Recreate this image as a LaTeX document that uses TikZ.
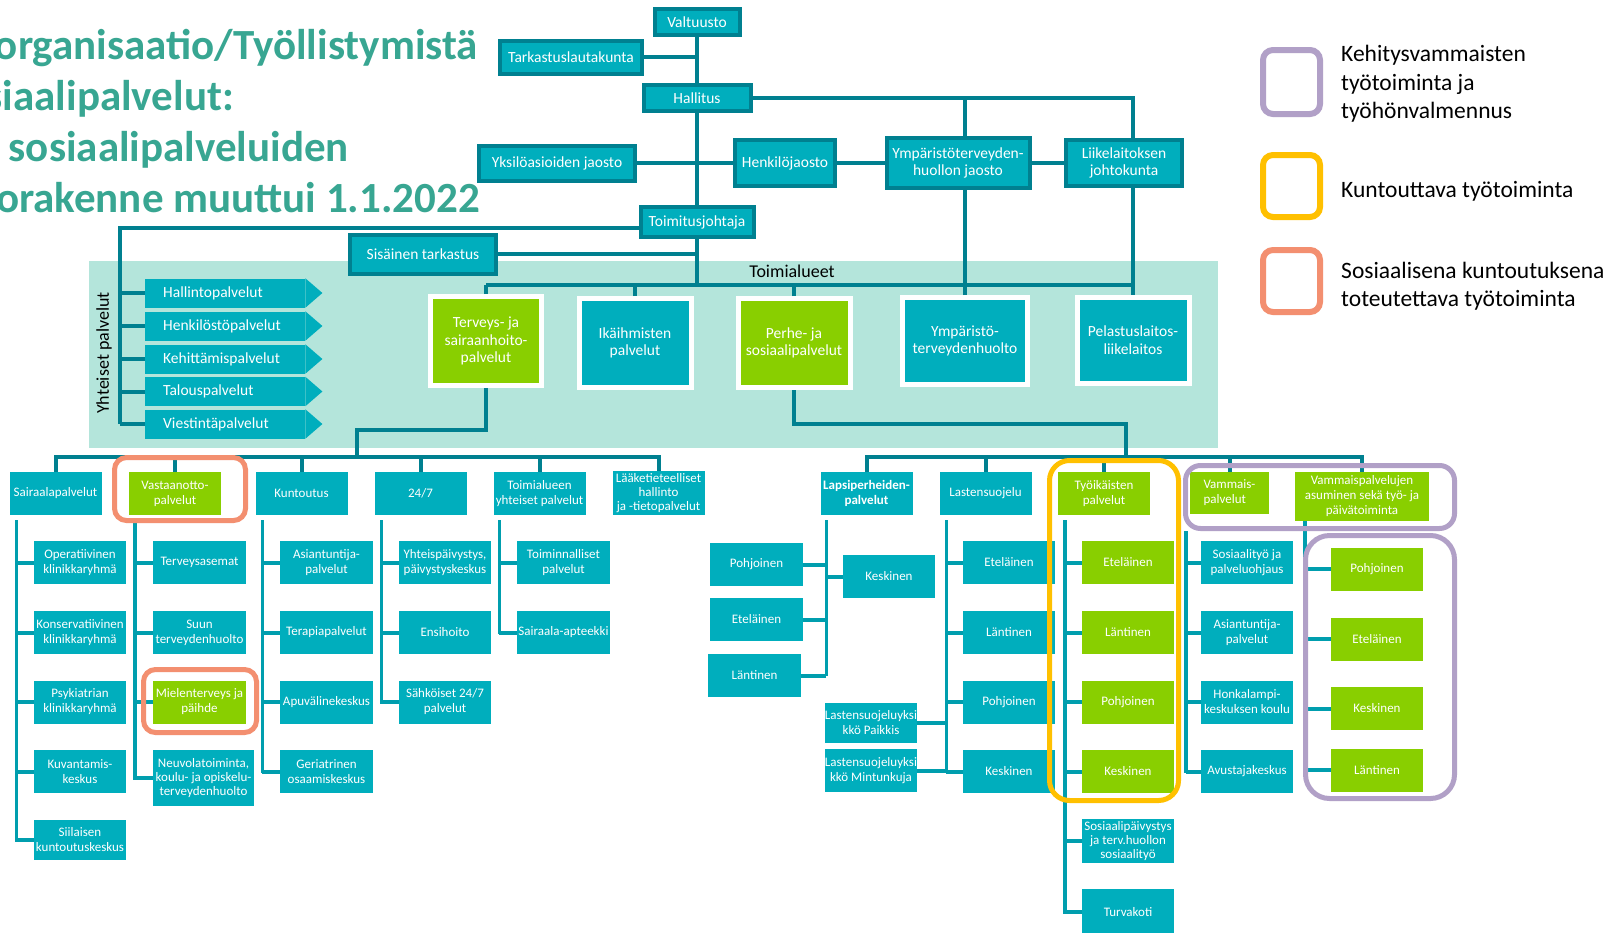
\documentclass[tikz,border=0pt]{standalone}
\usepackage{fontspec}
\setmainfont{Carlito}
\usetikzlibrary{calc}
\definecolor{boxteal}{RGB}{0,174,189}
\definecolor{darkteal}{RGB}{0,128,144}
\definecolor{colteal}{RGB}{0,158,174}
\definecolor{lgreen}{RGB}{137,207,0}
\definecolor{bgmint}{RGB}{180,229,219}
\definecolor{titlecol}{RGB}{56,166,146}
\definecolor{frorange}{RGB}{243,143,112}
\definecolor{fryellow}{RGB}{255,192,0}
\definecolor{frpurple}{RGB}{177,160,199}
\begin{document}
\begin{tikzpicture}[x=1pt,y=-1pt,
 topbox/.style={draw=darkteal,line width=4pt,fill=boxteal,text=white,font=\fontsize{15.5}{17}\selectfont,inner sep=0pt,align=center},
 areabox/.style={draw=white,line width=5pt,text=white,font=\fontsize{15.5}{17.5}\selectfont,inner sep=0pt,align=center},
 lowbox/.style={fill=boxteal,text=white,font=\fontsize{13}{15}\selectfont,inner sep=0pt,align=center,minimum width=92pt,minimum height=43pt},
 greenbox/.style={lowbox,fill=lgreen},
 conn/.style={draw=darkteal,line width=4pt},
 colline/.style={draw=colteal,line width=3.5pt},
 stubline/.style={draw=colteal,line width=4pt},
 ybox/.style={fill=boxteal,text=white,font=\fontsize{15.5}{17}\selectfont,anchor=west,minimum width=160pt,minimum height=29pt,text width=124pt,inner xsep=18pt,inner ysep=0pt,align=left},
 titlet/.style={text=titlecol,font=\fontsize{43}{50}\selectfont\bfseries,inner sep=0pt,anchor=base east},
 legt/.style={text=black,font=\fontsize{23.5}{28.5}\selectfont,inner sep=0pt,anchor=west,align=left},
 hframe/.style={line width=5pt,rounded corners=12pt},
 legsq/.style={line width=6pt,rounded corners=10pt},
]
\useasboundingbox (0,0) rectangle (1614,932);
\fill[white] (0,0) rectangle (1614,932);
\fill[bgmint] (89,261) rectangle (1218,448);

% title
\node[titlet] (t1) at (478,59) {organisaatio/Työllistymistä};
\node[titlet] (t2) at (234,110) {siaalipalvelut:};
\node[titlet] (t3) at (349,161) {n sosiaalipalveluiden};
\node[titlet] (t4) at (480,212) {orakenne muuttui 1.1.2022};

% top boxes
\node[topbox,minimum width=85pt,minimum height=26pt] (val) at (697,22) {Valtuusto};
\node[topbox,minimum width=142pt,minimum height=33pt] (tark) at (571,57) {Tarkastuslautakunta};
\node[topbox,minimum width=107pt,minimum height=26pt] (hal) at (697,98) {Hallitus};
\node[topbox,minimum width=156pt,minimum height=35pt] (yks) at (557,163) {Yksilöasioiden jaosto};
\node[topbox,minimum width=100pt,minimum height=46pt] (henk) at (785,163) {Henkilöjaosto};
\node[topbox,minimum width=143pt,minimum height=50pt] (ymp) at (958,163) {Ympäristöterveyden-\\huollon jaosto};
\node[topbox,minimum width=116pt,minimum height=46pt] (liik) at (1124,163) {Liikelaitoksen\\johtokunta};
\node[topbox,minimum width=113pt,minimum height=30pt] (toim) at (697,222) {Toimitusjohtaja};
\node[topbox,minimum width=146pt,minimum height=39pt] (sis) at (423,254) {Sisäinen tarkastus};

% Yhteiset palvelut
\node[ybox] (y1) at (145,293) {Hallintopalvelut};
\node[ybox] (y2) at (145,326) {Henkilöstöpalvelut};
\node[ybox] (y3) at (145,359) {Kehittämispalvelut};
\node[ybox] (y4) at (145,391.5) {Talouspalvelut};
\node[ybox] (y5) at (145,424) {Viestintäpalvelut};
\foreach \n in {y1,y2,y3,y4,y5}{
  \fill[boxteal] (\n.north east) -- ($(\n.east)+(17,0)$) -- (\n.south east) -- cycle;
}
\node[rotate=90,font=\fontsize{18}{20}\selectfont,inner sep=0pt] (yp) at (104,353) {Yhteiset palvelut};
\node[font=\fontsize{18}{20}\selectfont,inner sep=0pt] (ta) at (792,271) {Toimialueet};

% area boxes
\node[areabox,fill=lgreen,minimum width=111pt,minimum height=89pt] (terv) at (486,341) {Terveys- ja\\sairaanhoito-\\palvelut};
\node[areabox,fill=boxteal,minimum width=112pt,minimum height=89pt] (ika) at (635,343) {Ikäihmisten\\palvelut};
\node[areabox,fill=lgreen,minimum width=112pt,minimum height=89pt] (perhe) at (794,343) {Perhe- ja\\sosiaalipalvelut};
\node[areabox,fill=boxteal,minimum width=125pt,minimum height=87pt] (ympt) at (965,341) {Ympäristö-\\terveydenhuolto};
\node[areabox,fill=boxteal,minimum width=112pt,minimum height=86pt] (pel) at (1133,340) {Pelastuslaitos-\\liikelaitos};

% top connectors
\draw[conn] (val.south) -- (hal.north);
\draw[conn] (hal.south) -- (toim.north);
\draw[conn] (toim.south) -- (toim.south |- 0,285);
\draw[conn] (tark.east) -- (tark.east -| val.south);
\draw[conn] (hal.east) -| (pel.north |- liik.north);
\draw[conn] (ympt.north |- hal.east) -- (ympt.north |- ymp.north);
\draw[conn] (yks.east) -- (henk.west);
\draw[conn] (henk.east) -- (ymp.west);
\draw[conn] (ymp.east) -- (liik.west);
\draw[conn] ([yshift=-6pt]toim.west) -| ([xshift=-25pt]y5.west);
\foreach \n in {y1,y2,y3,y4,y5}{ \draw[conn] (\n.west) -- ++(-25,0); }
\draw[conn] (sis.east) -- (sis.east -| toim.south);
\draw[conn] (terv.north |- 0,285) -- (pel.north |- 0,285);
\foreach \n in {terv,ika,perhe}{ \draw[conn] (\n.north) -- (\n.north |- 0,285); }
\draw[conn] (ympt.north) -- (ympt.north |- ymp.south);
\draw[conn] (pel.north) -- (pel.north |- liik.south);

% level 2 boxes
\node[lowbox] (sair) at (55.5,493.5) {Sairaalapalvelut};
\node[greenbox] (vast) at (175,493.5) {Vastaanotto-\\palvelut};
\node[lowbox] (kunt) at (301.5,493.5) {Kuntoutus};
\node[lowbox] (t247) at (420.5,493.5) {24/7};
\node[lowbox] (tyht) at (539.5,493.5) {Toimialueen\\yhteiset palvelut};
\node[lowbox,minimum height=44pt,font=\fontsize{13}{14}\selectfont] (laak) at (658.5,493) {Lääketieteelliset\\hallinto\\ja -tietopalvelut};
\node[lowbox,font=\fontsize{13}{15}\selectfont\bfseries] (lap) at (866.5,493.5) {Lapsiperheiden-\\palvelut};
\node[lowbox] (lsuo) at (985.5,493.5) {Lastensuojelu};
\node[greenbox] (tyo) at (1104,493.5) {Työikäisten\\palvelut};
\node[greenbox,minimum width=79pt,minimum height=42pt,align=left] (vam) at (1229.5,493) {Vammais-\\palvelut};
\node[greenbox,minimum width=134pt,minimum height=49pt] (vasu) at (1362,496.5) {Vammaispalvelujen\\asuminen sekä työ- ja\\päivätoiminta};

% level 2 connectors
\coordinate (L) at (357,457);
\coordinate (R) at (1126,457);
\draw[conn] (terv.south) -- ++(0,42) -| (L);
\draw[conn] (perhe.south) -- ++(0,34) -| (R);
\draw[conn] (sair.north) -- (sair.north |- L) -- (laak.north |- L) -- (laak.north);
\foreach \n in {vast,kunt,t247,tyht}{ \draw[conn] (\n.north) -- (\n.north |- L); }
\draw[conn] (lap.north) -- (lap.north |- R) -- (vasu.north |- R) -- (vasu.north);
\foreach \n in {lsuo,tyo,vam}{ \draw[conn] (\n.north) -- (\n.north |- R); }

% Sairaalapalvelut column
\node[lowbox] (s1) at (80,562.5) {Operatiivinen\\klinikkaryhmä};
\node[lowbox] (s2) at (80,632.5) {Konservatiivinen\\klinikkaryhmä};
\node[lowbox] (s3) at (80,702) {Psykiatrian\\klinikkaryhmä};
\node[lowbox] (s4) at (80,771.5) {Kuvantamis-\\keskus};
\node[lowbox,minimum height=40pt] (s5) at (80,840) {Siilaisen\\kuntoutuskeskus};
\coordinate (cs) at ([xshift=7pt,yshift=-5pt]sair.south west);
\draw[colline] (cs) |- (s5.west);
\foreach \n in {s1,s2,s3,s4,s5}{ \draw[stubline] (\n.west) -- (\n.west -| cs); }

% Vastaanotto column
\node[lowbox,minimum width=93pt] (v1) at (199.5,562.5) {Terveysasemat};
\node[lowbox,minimum width=93pt] (v2) at (199.5,632.5) {Suun\\terveydenhuolto};
\node[greenbox,minimum width=93pt] (v3) at (199.5,702) {Mielenterveys ja\\päihde};
\node[lowbox,minimum width=101pt,minimum height=56pt,font=\fontsize{13}{14}\selectfont] (v4) at (203.5,778) {Neuvolatoiminta,\\koulu- ja opiskelu-\\terveydenhuolto};
\coordinate (cv) at ([xshift=6pt,yshift=-5pt]vast.south west);
\draw[colline] (cv) |- (v4.west);
\foreach \n in {v1,v2,v3,v4}{ \draw[stubline] (\n.west) -- (\n.west -| cv); }

% Kuntoutus column
\node[lowbox,minimum width=93pt] (k1) at (326.5,562.5) {Asiantuntija-\\palvelut};
\node[lowbox,minimum width=93pt] (k2) at (326.5,632.5) {Terapiapalvelut};
\node[lowbox,minimum width=93pt] (k3) at (326.5,702) {Apuvälinekeskus};
\node[lowbox,minimum width=93pt] (k4) at (326.5,771.5) {Geriatrinen\\osaamiskeskus};
\coordinate (ck) at ([xshift=7pt,yshift=-5pt]kunt.south west);
\draw[colline] (ck) |- (k4.west);
\foreach \n in {k1,k2,k3,k4}{ \draw[stubline] (\n.west) -- (\n.west -| ck); }

% 24/7 column
\node[lowbox] (p1) at (445,562.5) {Yhteispäivystys,\\päivystyskeskus};
\node[lowbox] (p2) at (445,632.5) {Ensihoito};
\node[lowbox] (p3) at (445,702) {Sähköiset 24/7\\palvelut};
\coordinate (cp) at ([xshift=7pt,yshift=-5pt]t247.south west);
\draw[colline] (cp) |- (p3.west);
\foreach \n in {p1,p2,p3}{ \draw[stubline] (\n.west) -- (\n.west -| cp); }

% Toimialueen yhteiset column
\node[lowbox,minimum width=93pt] (ty1) at (563.5,562.5) {Toiminnalliset\\palvelut};
\node[lowbox,minimum width=93pt] (ty2) at (563.5,632.5) {Sairaala-apteekki};
\coordinate (cty) at ([xshift=6pt,yshift=-5pt]tyht.south west);
\draw[colline] (cty) |- (ty2.west);
\foreach \n in {ty1,ty2}{ \draw[stubline] (\n.west) -- (\n.west -| cty); }

% Lapsiperheiden column
\node[lowbox,minimum width=93pt] (lp1) at (756.5,564.5) {Pohjoinen};
\node[lowbox,minimum width=93pt] (lp2) at (756.5,619.5) {Eteläinen};
\node[lowbox,minimum width=93pt] (lp3) at (754.5,675.5) {Läntinen};
\node[lowbox] (lpk) at (889,576.5) {Keskinen};
\coordinate (clp) at ([xshift=6pt,yshift=-5pt]lap.south west);
\draw[colline] (clp) -- (clp |- lp3.east);
\foreach \n in {lp1,lp2,lp3}{ \draw[stubline] (\n.east) -- (\n.east -| clp); }
\draw[stubline] (lpk.west) -- (lpk.west -| clp);

% Lastensuojelu column
\node[lowbox] (ls1) at (1009,562.5) {Eteläinen};
\node[lowbox] (ls2) at (1009,632.5) {Läntinen};
\node[lowbox] (ls3) at (1009,702) {Pohjoinen};
\node[lowbox] (ls4) at (1009,771.5) {Keskinen};
\node[lowbox,minimum height=40pt] (lsp) at (871,723) {Lastensuojeluyksi\\kkö Paikkis};
\node[lowbox] (lsm) at (871,770.5) {Lastensuojeluyksi\\kkö Mintunkuja};
\coordinate (cls) at ([xshift=7pt,yshift=-5pt]lsuo.south west);
\draw[colline] (cls) -- (cls |- ls4.west);
\foreach \n in {ls1,ls2,ls3,ls4}{ \draw[stubline] (\n.west) -- (\n.west -| cls); }
\foreach \n in {lsp,lsm}{ \draw[stubline] (\n.east) -- (\n.east -| cls); }

% Tyoikaisten column
\node[greenbox] (tw1) at (1128,562.5) {Eteläinen};
\node[greenbox] (tw2) at (1128,632.5) {Läntinen};
\node[greenbox] (tw3) at (1128,702) {Pohjoinen};
\node[greenbox] (tw4) at (1128,771.5) {Keskinen};
\node[lowbox,minimum height=44pt,font=\fontsize{13}{14}\selectfont] (tw5) at (1128,841) {Sosiaalipäivystys\\ja terv.huollon\\sosiaalityö};
\node[lowbox,minimum height=46pt] (tw6) at (1128,912) {Turvakoti};
\coordinate (ctw) at ([xshift=7pt,yshift=-5pt]tyo.south west);
\draw[colline] (ctw) |- (tw6.west);
\foreach \n in {tw1,tw2,tw3,tw4,tw5,tw6}{ \draw[stubline] (\n.west) -- (\n.west -| ctw); }

% Vammaispalvelut column
\node[lowbox] (vm1) at (1247,562.5) {Sosiaalityö ja\\palveluohjaus};
\node[lowbox] (vm2) at (1247,632.5) {Asiantuntija-\\palvelut};
\node[lowbox] (vm3) at (1247,702) {Honkalampi-\\keskuksen koulu};
\node[lowbox] (vm4) at (1247,771.5) {Avustajakeskus};
\coordinate (cvm) at ([xshift=-4pt,yshift=-17pt]vam.south west);
\draw[colline] (cvm) |- (vm4.west);
\foreach \n in {vm1,vm2,vm3,vm4}{ \draw[stubline] (\n.west) -- (\n.west -| cvm); }

% Vammaispalvelujen asuminen column
\node[greenbox] (va1) at (1377,569) {Pohjoinen};
\node[greenbox] (va2) at (1377,639) {Eteläinen};
\node[greenbox] (va3) at (1377,708.5) {Keskinen};
\node[greenbox] (va4) at (1377,770) {Läntinen};
\coordinate (cva) at ([xshift=10pt]vasu.south west);
\draw[colline] (cva) |- (va4.west);
\foreach \n in {va1,va2,va3,va4}{ \draw[stubline] (\n.west) -- (\n.west -| cva); }

% highlight frames
\draw[hframe,frorange] (114.5,457.5) rectangle (245.5,520.5);
\draw[hframe,frorange] (143.5,669.5) rectangle (256.5,732.5);
\draw[hframe,fryellow,rounded corners=20pt] (1049.5,460.5) rectangle (1178.5,800.5);
\draw[hframe,frpurple,rounded corners=15pt] (1185.5,465.5) rectangle (1454.5,528.5);
\draw[hframe,frpurple,rounded corners=24pt] (1305.5,535.5) rectangle (1454.5,798.5);

% legend
\draw[legsq,frpurple] (1263,50) rectangle (1320,114);
\draw[legsq,fryellow] (1263,155) rectangle (1320,217);
\draw[legsq,frorange] (1263,250) rectangle (1320,312);
\node[legt] (lg1) at (1341,84) {Kehitysvammaisten\\työtoiminta ja\\työhönvalmennus};
\node[legt] (lg2) at (1341,191) {Kuntouttava työtoiminta};
\node[legt] (lg3) at (1341,286) {Sosiaalisena kuntoutuksena\\toteutettava työtoiminta};
\end{tikzpicture}
\end{document}
